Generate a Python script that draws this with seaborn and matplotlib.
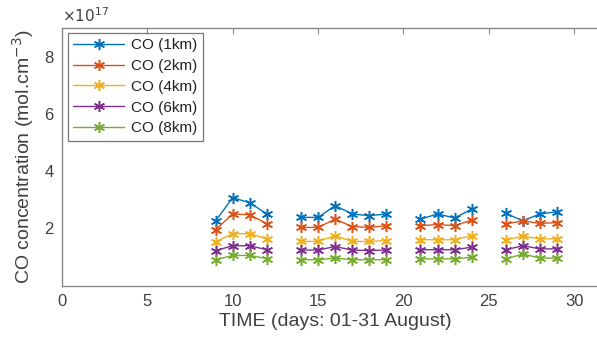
import numpy as np
import pandas as pd
import matplotlib
matplotlib.use("Agg")
import matplotlib.pyplot as plt
from matplotlib.lines import Line2D
import seaborn as sns

days = [9, 10, 11, 12, 14, 15, 16, 17, 18, 19, 21, 22, 23, 24, 26, 27, 28, 29]
segments = [1, 1, 1, 1, 2, 2, 2, 2, 2, 2, 3, 3, 3, 3, 4, 4, 4, 4]
co_1km = [2.26, 3.07, 2.89, 2.50, 2.38, 2.38, 2.79, 2.50, 2.44, 2.50, 2.32, 2.50, 2.36, 2.67, 2.52, 2.26, 2.50, 2.58]
co_2km = [1.95, 2.50, 2.47, 2.16, 2.03, 2.03, 2.32, 2.06, 2.03, 2.09, 2.09, 2.13, 2.09, 2.29, 2.15, 2.26, 2.17, 2.20]
co_4km = [1.53, 1.81, 1.81, 1.63, 1.54, 1.54, 1.74, 1.54, 1.54, 1.57, 1.60, 1.60, 1.60, 1.74, 1.60, 1.72, 1.63, 1.63]
co_6km = [1.22, 1.39, 1.39, 1.25, 1.24, 1.24, 1.36, 1.24, 1.22, 1.24, 1.25, 1.25, 1.25, 1.34, 1.25, 1.39, 1.28, 1.28]
co_8km = [0.90, 1.05, 1.05, 0.94, 0.90, 0.90, 0.96, 0.90, 0.90, 0.90, 0.93, 0.93, 0.93, 0.99, 0.93, 1.10, 0.96, 0.96]
series_names = ["CO (1km)", "CO (2km)", "CO (4km)", "CO (6km)", "CO (8km)"]
colors = ["#0072BD", "#D95319", "#EDB120", "#7E2F8E", "#77AC30"]

rows = []
for name, vals in zip(series_names, [co_1km, co_2km, co_4km, co_6km, co_8km]):
    for d, s, v in zip(days, segments, vals):
        rows.append({"day": d, "seg": s, "val": v, "series": name})
df = pd.DataFrame(rows)

sns.set_style("white")
plt.rcParams["font.family"] = ["Liberation Sans", "DejaVu Sans"]
textc = "#404040"
spinec = "#8a8a8a"

fig = plt.figure(figsize=(5.97, 3.38), dpi=100)
W, H = 597, 338
left, right, top, bottom = 62, 62 + 32 * 17.07, 28, 285.5
ax = fig.add_axes([left / W, (H - bottom) / H, (right - left) / W, (bottom - top) / H])

mk = (6, 2, 0)
sns.lineplot(data=df, x="day", y="val", hue="series", units="seg", estimator=None,
             palette=colors, hue_order=series_names, marker=mk, markersize=8,
             markeredgewidth=1.1, linewidth=1.0, legend=False, ax=ax)
for ln in ax.lines:
    ln.set_markeredgecolor(ln.get_color())
    ln.set_markerfacecolor(ln.get_color())
    ln.set_linestyle("-")

ax.set_xlim(0, 32)
ax.set_ylim(0, 9)
ax.set_xticks([0, 5, 10, 15, 20, 25, 30])
ax.set_yticks([2, 4, 6, 8])
ax.tick_params(direction="in", length=4, width=0.8, colors=spinec, labelcolor=textc,
               labelsize=12, top=True, right=False, pad=6)
for sp in ax.spines.values():
    sp.set_color(spinec)
    sp.set_linewidth(1.0)
ax.spines["right"].set_visible(False)
ax.set_xlabel("TIME (days: 01-31 August)", fontsize=14, color=textc, labelpad=3)
ax.set_ylabel("CO concentration (mol.cm$^{-3}$)", fontsize=14, color=textc, labelpad=6)
ax.text(0.0, 1.012, r"$\times10^{17}$", transform=ax.transAxes, fontsize=11,
        color=textc, ha="left", va="bottom")

handles = [Line2D([], [], color=c, marker=mk, markersize=8, markeredgewidth=1.1,
                  linewidth=1.0) for c in colors]
leg = ax.legend(handles, series_names, loc="upper left", bbox_to_anchor=(0.011, 0.982),
                fontsize=11, frameon=True, fancybox=False, borderpad=0.35,
                labelspacing=0.45, handlelength=3.3, handletextpad=0.5,
                borderaxespad=0.0)
leg.get_frame().set_edgecolor("#555555")
leg.get_frame().set_linewidth(0.9)
for t in leg.get_texts():
    t.set_color("#222222")

fig.savefig("out.png", dpi=100)
